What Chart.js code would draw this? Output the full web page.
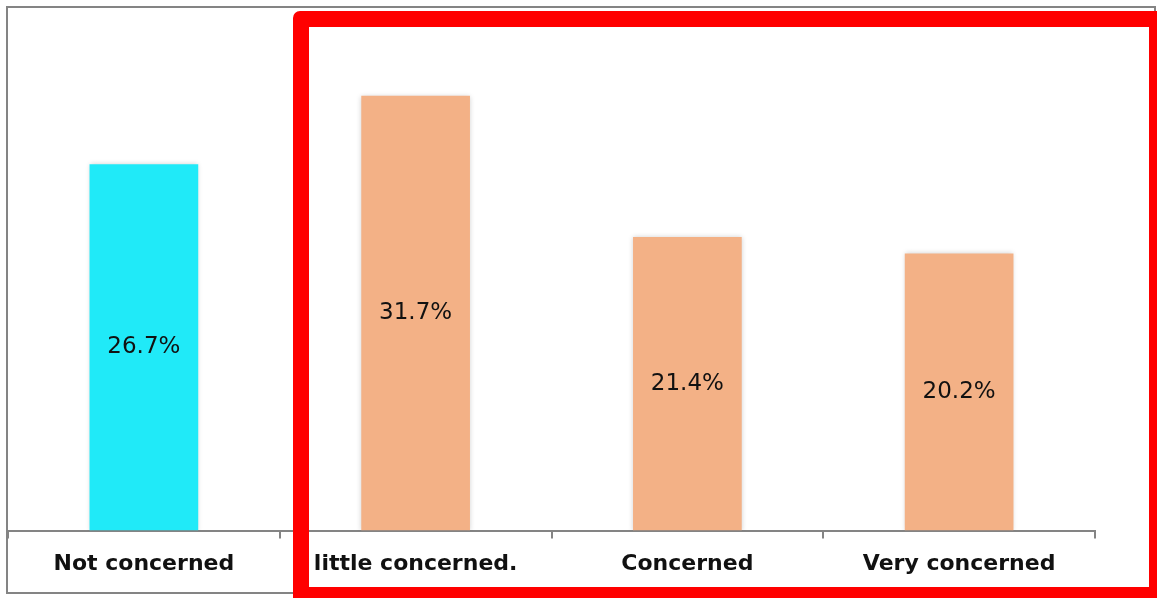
<!DOCTYPE html>
<html>
<head>
<meta charset="utf-8">
<script src="https://cdn.jsdelivr.net/npm/chart.js@4/dist/chart.umd.min.js"></script>
<style>
  html, body { margin: 0; padding: 0; background: #fff; overflow: hidden; }
  #wrap { position: relative; width: 1157px; height: 598px; }
  #frame {
    position: absolute; left: 6px; top: 6px; width: 1150px; height: 588px;
    box-sizing: border-box; border: 2px solid #848484; pointer-events: none;
  }
  #highlight {
    position: absolute; left: 293px; top: 11px; width: 872px; height: 592px;
    box-sizing: border-box; border: 16px solid #ff0000; border-radius: 7px 0 0 0;
    pointer-events: none;
  }
</style>
</head>
<body>
<div id="wrap">
  <canvas id="concernChart" width="1157" height="598"></canvas>
  <div id="frame"></div>
  <div id="highlight"></div>
</div>
<script>
// Share of respondents by level of concern
const categories = ['Not concerned', 'little concerned.', 'Concerned', 'Very concerned'];
const shares = [26.7, 31.7, 21.4, 20.2];
const barColors = ['#20eaf8', '#f3b186', '#f3b186', '#f3b186'];

// Writes each value in the middle of its bar
const valueLabels = {
  id: 'valueLabels',
  afterDatasetsDraw(chart) {
    const ctx = chart.ctx;
    const meta = chart.getDatasetMeta(0);
    ctx.save();
    ctx.font = '23px "DejaVu Sans", Verdana, sans-serif';
    ctx.fillStyle = '#111';
    ctx.textAlign = 'center';
    ctx.textBaseline = 'middle';
    meta.data.forEach((bar, i) => {
      const mid = (bar.y + bar.base) / 2;
      ctx.fillText(shares[i].toFixed(1) + '%', bar.x, mid);
    });
    ctx.restore();
  }
};

// Soft shadow behind the bars
const barShadow = {
  id: 'barShadow',
  beforeDatasetDraw(chart) {
    const ctx = chart.ctx;
    ctx.save();
    ctx.shadowColor = 'rgba(0, 0, 0, 0.18)';
    ctx.shadowBlur = 5;
  },
  afterDatasetDraw(chart) {
    chart.ctx.restore();
  }
};

new Chart(document.getElementById('concernChart'), {
  type: 'bar',
  data: {
    labels: categories,
    datasets: [{
      data: shares,
      backgroundColor: barColors,
      borderWidth: 0,
      categoryPercentage: 1,
      barPercentage: 0.4
    }]
  },
  options: {
    responsive: false,
    animation: false,
    layout: { padding: { left: 8, right: 62, top: 23, bottom: 9 } },
    plugins: {
      legend: { display: false },
      tooltip: { enabled: false }
    },
    scales: {
      x: {
        grid: {
          offset: true,
          drawOnChartArea: false,
          drawTicks: true,
          tickLength: 8,
          color: '#848484',
          lineWidth: 2
        },
        border: { display: true, color: '#848484', width: 2 },
        ticks: {
          padding: 12,
          color: '#111',
          font: { family: '"DejaVu Sans", Verdana, sans-serif', size: 22, weight: 'bold' }
        }
      },
      y: {
        display: false,
        min: 0,
        max: 37
      }
    }
  },
  plugins: [barShadow, valueLabels]
});
</script>
</body>
</html>
